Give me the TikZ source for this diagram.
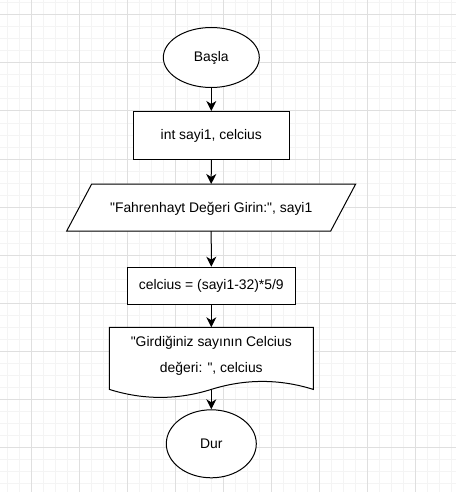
\documentclass[tikz,border=0pt]{standalone}
\usepackage{fontspec}
\setmainfont{Liberation Sans}[Ligatures=TeXOff]
\usetikzlibrary{shapes.geometric,arrows.meta}
\definecolor{gridmajor}{HTML}{DFDFDF}
\definecolor{gridminor}{HTML}{F4F4F4}
\begin{document}
\begin{tikzpicture}[x=1pt,y=-1pt,
  box/.style={draw=black, line width=1pt, fill=white, inner sep=0pt, font=\fontsize{13.9}{16}\selectfont},
  term/.style={box, ellipse},
  proc/.style={box, rectangle},
  ghost/.style={rectangle, inner sep=0pt, outer sep=0pt},
  conn/.style={draw, line width=1pt, -{Stealth[length=10pt,width=10pt,inset=3pt]}}]
\useasboundingbox (0,0) rectangle (456,492);
\fill[white] (0,0) rectangle (456,492);
% grid
\foreach \x in {7,19,...,455} \draw[gridminor, line width=1pt] (\x,0) -- (\x,492);
\foreach \y in {3,15,...,491} \draw[gridminor, line width=1pt] (0,\y) -- (456,\y);
\foreach \x in {31,79,...,455} \draw[gridmajor, line width=1pt] (\x,0) -- (\x,492);
\foreach \y in {15,63,...,491} \draw[gridmajor, line width=1pt] (0,\y) -- (456,\y);

% shapes
\node[term, minimum width=96pt, minimum height=60pt] (start) at (211.3,57.5) {Başla};
\node[proc, minimum width=156pt, minimum height=48pt] (decl) at (211.3,135.5) {int sayi1, celcius};

\node[ghost, minimum width=264pt, minimum height=47pt] (inp) at (211.2,207.5) {};
\draw[line width=1pt, fill=white] (91.7,184) -- (355.7,184) -- (330.7,231) -- (66.7,231) -- cycle;
\node[ghost, font=\fontsize{13.9}{16}\selectfont] (inptext) at (211.2,209) {"Fahrenhayt Değeri Girin:", sayi1};

\node[proc, minimum width=168pt, minimum height=37pt] (calc) at (211.3,285.7) {celcius = (sayi1-32)*5/9};

\node[ghost, minimum width=204pt, minimum height=62.1pt] (doc) at (211.3,358.35) {};
\draw[line width=1pt, fill=white] (109.3,327.3) -- (313.3,327.3) -- (313.3,389.4)
  .. controls (279.3,378.77) and (245.3,378.77) .. (211.3,389.4)
  .. controls (177.3,400.07) and (143.3,400.07) .. (109.3,389.4) -- cycle;
\node[ghost, align=center, font=\fontsize{13.9}{25.6}\selectfont] (doctext) at (211.3,355.8) {"Girdiğiniz sayının Celcius\\değeri: ", celcius};

\node[term, minimum width=90pt, minimum height=68pt] (stop) at (211.3,443.8) {Dur};

% connectors
\draw[conn] (start) -- (decl);
\draw[conn] (decl) -- (inp);
\draw[conn] (inp) -- (calc);
\draw[conn] (calc) -- (doc);
\draw[conn] (doc.south) -- (stop);
\end{tikzpicture}
\end{document}
